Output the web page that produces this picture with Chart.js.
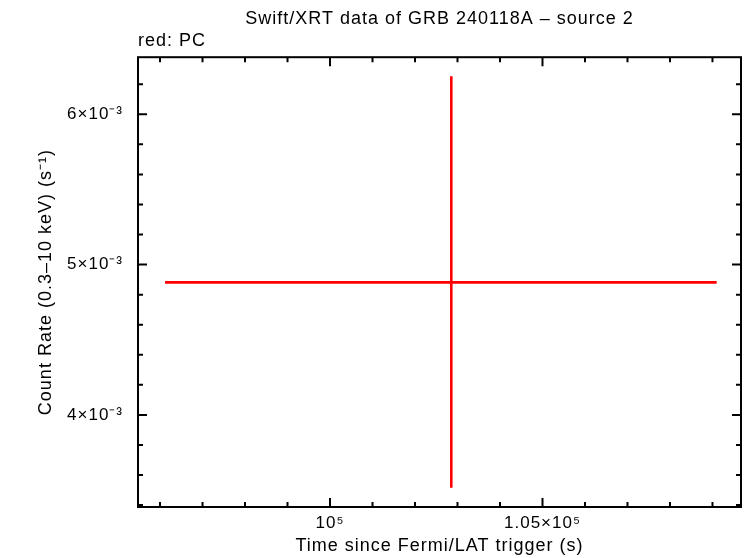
<!DOCTYPE html>
<html>
<head>
<meta charset="utf-8">
<script src="https://cdn.jsdelivr.net/npm/chart.js@4"></script>
<style>
  body { margin: 0; background: white; }
</style>
</head>
<body>
<canvas id="chart" width="746" height="558"></canvas>
<script>

// PC mode light curve (one bin)
const timeMid = [102854];
const timeLo = [96118];
const timeHi = [109099];
const rate = [4.882e-3];
const rateLo = [3.515e-3];
const rateHi = [6.253e-3];

// axis ranges and tick labels
const xMin = 95482, xMax = 109671;
const yMin = 3.387e-3, yMax = 6.38e-3;
const xTickValues = [100000, 105000];
const xTickText = ["10\u2075", "1.05\u00d710\u2075"];
const yTickValues = [4e-3, 5e-3, 6e-3];
const yTickText = ["4\u00d710\u207b\u00b3", "5\u00d710\u207b\u00b3", "6\u00d710\u207b\u00b3"];

const FONT = "'Liberation Sans', Arial, Helvetica, sans-serif";

const datasets = [];
for (let i = 0; i < timeMid.length; i++) {
    // x error bar
    datasets.push({
        data: [{ x: timeLo[i], y: rate[i] }, { x: timeHi[i], y: rate[i] }],
        showLine: true, borderColor: "#ff0000", borderWidth: 2.6, pointRadius: 0
    });
    // y error bar
    datasets.push({
        data: [{ x: timeMid[i], y: rateLo[i] }, { x: timeMid[i], y: rateHi[i] }],
        showLine: true, borderColor: "#ff0000", borderWidth: 2.6, pointRadius: 0
    });
}

// the original font is a bit wider than Liberation Sans
const spacing = {
    id: "spacing",
    beforeUpdate(chart) { chart.ctx.letterSpacing = "1px"; },
    beforeDraw(chart) { chart.ctx.letterSpacing = "1px"; }
};

// frame + inward ticks on all four sides
const frameTicks = {
    id: "frameTicks",
    afterDraw(chart) {
        const { ctx, chartArea: a, scales: { x, y } } = chart;
        ctx.save();
        ctx.strokeStyle = "#000";
        ctx.lineWidth = 2;
        ctx.strokeRect(a.left, a.top, a.right - a.left, a.bottom - a.top);
        ctx.beginPath();
        for (let v = 96000; v <= 109000; v += 1000) {
            const px = x.getPixelForValue(v);
            const len = v % 5000 === 0 ? 9 : 5;
            ctx.moveTo(px, a.bottom); ctx.lineTo(px, a.bottom - len);
            ctx.moveTo(px, a.top); ctx.lineTo(px, a.top + len);
        }
        for (let k = 34; k <= 63; k += 2) {
            const py = y.getPixelForValue(k / 10000);
            const len = k % 10 === 0 ? 9 : 5;
            ctx.moveTo(a.left, py); ctx.lineTo(a.left + len, py);
            ctx.moveTo(a.right, py); ctx.lineTo(a.right - len, py);
        }
        ctx.stroke();
        ctx.restore();
    }
};

const chart = new Chart(document.getElementById("chart").getContext("2d"), {
    type: "scatter",
    data: { datasets: datasets },
    plugins: [spacing, frameTicks],
    options: {
        responsive: false,
        animation: false,
        layout: { padding: { left: 0, right: 5, top: 0, bottom: 0 } },
        plugins: {
            legend: { display: false },
            tooltip: { enabled: false },
            title: {
                display: true,
                text: "Swift/XRT data of GRB 240118A \u2013 source 2",
                fullSize: false,
                color: "#000",
                font: { family: FONT, size: 18, weight: "normal" },
                padding: { top: 8, bottom: 0 }
            },
            subtitle: {
                display: true,
                text: "red: PC",
                align: "start",
                fullSize: false,
                color: "#000",
                font: { family: FONT, size: 18, weight: "normal" },
                padding: { top: 1, bottom: 5 }
            }
        },
        scales: {
            x: {
                type: "linear",
                min: xMin, max: xMax,
                grid: { display: false, drawTicks: false },
                border: { display: false },
                afterFit: s => { s.height = 51; },
                afterBuildTicks: s => { s.ticks = xTickValues.map(v => ({ value: v })); },
                ticks: {
                    maxRotation: 0,
                    autoSkip: false,
                    padding: 6,
                    color: "#000",
                    font: { family: FONT, size: 17 },
                    callback: (v, i) => xTickText[i]
                },
                title: {
                    display: true,
                    text: "Time since Fermi/LAT trigger (s)",
                    color: "#000",
                    font: { family: FONT, size: 18 },
                    padding: { top: 0, bottom: 1 }
                }
            },
            y: {
                type: "linear",
                min: yMin, max: yMax,
                grid: { display: false, drawTicks: false },
                border: { display: false },
                afterFit: s => { s.width = 138; },
                afterBuildTicks: s => { s.ticks = yTickValues.map(v => ({ value: v })); },
                ticks: {
                    autoSkip: false,
                    padding: 15,
                    color: "#000",
                    font: { family: FONT, size: 17 },
                    callback: (v, i) => yTickText[i]
                },
                title: {
                    display: true,
                    text: "Count Rate (0.3\u201310 keV) (s\u207b\u00b9)",
                    color: "#000",
                    font: { family: FONT, size: 18 },
                    padding: { top: 35, bottom: 0 }
                }
            }
        }
    }
});

</script>
</body>
</html>
